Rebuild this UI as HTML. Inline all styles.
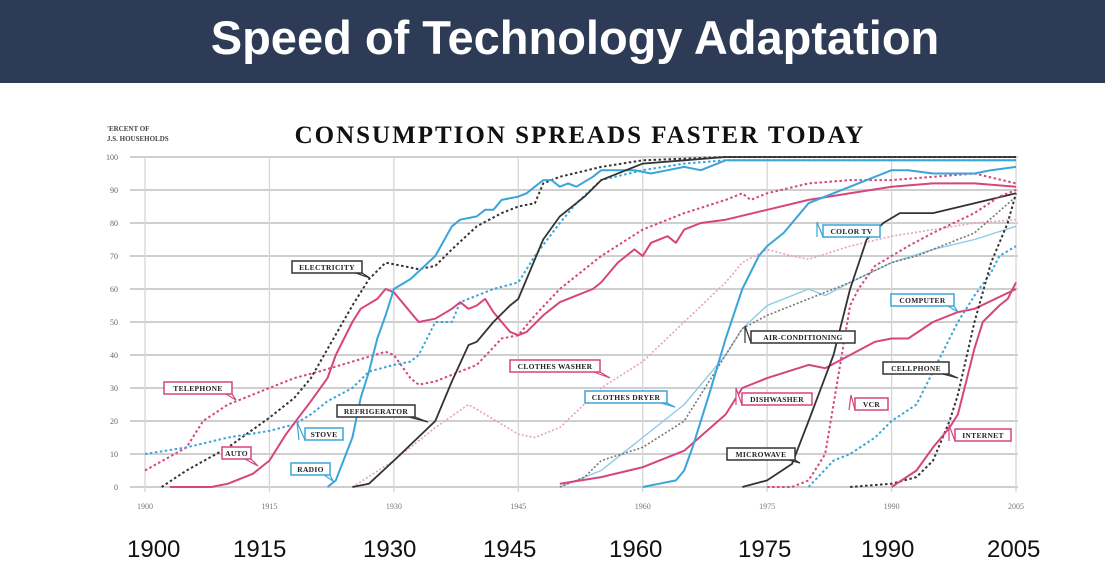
<!DOCTYPE html>
<html><head><meta charset="utf-8">
<style>
html,body{margin:0;padding:0;background:#fff;width:1105px;height:570px;overflow:hidden;font-family:"Liberation Sans",sans-serif}
#hdr{position:absolute;left:0;top:0;width:1105px;height:83px;background:#2e3b57}
#ttl{position:absolute;left:0;top:10px;width:1150px;text-align:center;color:#fff;font-weight:bold;font-size:47px}
svg{position:absolute;left:0;top:0}
.bl{position:absolute;top:536px;font-size:24px;color:#111}
</style></head>
<body>
<div id="hdr"><div id="ttl">Speed of Technology Adaptation</div></div>
<svg id="chart" width="1105" height="570"></svg>
<div class="bl" style="left:127px">1900</div>
<div class="bl" style="left:233px">1915</div>
<div class="bl" style="left:363px">1930</div>
<div class="bl" style="left:483px">1945</div>
<div class="bl" style="left:609px">1960</div>
<div class="bl" style="left:738px">1975</div>
<div class="bl" style="left:861px">1990</div>
<div class="bl" style="left:987px">2005</div>
<script>
const xTicks=[1900,1915,1930,1945,1960,1975,1990,2005];
const yTicks=[0,10,20,30,40,50,60,70,80,90,100];
const telephone=[[1900,5],[1905,12],[1907,20],[1910,25],[1915,30],[1918,33],[1921,35],[1925,38],[1929,41],[1930,40],[1932,33],[1933,31],[1935,32],[1940,37],[1943,45],[1945,46],[1947,52],[1950,60],[1955,70],[1960,78],[1965,83],[1970,87],[1972,89],[1973,87],[1975,89],[1980,92],[1985,93],[1990,93],[1995,94],[2000,95],[2005,92]];
const electricity=[[1902,0],[1905,5],[1910,12],[1915,21],[1918,27],[1920,33],[1925,55],[1927,63],[1929,68],[1931,67],[1933,66],[1935,67],[1937,72],[1940,79],[1943,83],[1945,85],[1947,86],[1948,92],[1950,94],[1955,97],[1960,99],[1965,99.5],[1970,100],[2005,100]];
const auto=[[1903,0],[1908,0],[1910,1],[1913,4],[1915,8],[1917,16],[1920,26],[1922,33],[1923,40],[1925,50],[1926,54],[1928,57],[1929,60],[1930,59],[1932,53],[1933,50],[1935,51],[1937,54],[1938,56],[1939,54],[1940,55],[1941,57],[1942,53],[1944,47],[1945,46],[1946,47],[1948,52],[1950,56],[1952,58],[1954,60],[1955,62],[1957,68],[1958,70],[1959,72],[1960,70],[1961,74],[1963,76],[1964,74],[1965,78],[1967,80],[1970,81],[1975,84],[1980,87],[1985,89],[1990,91],[1995,92],[2000,92],[2005,91]];
const stove=[[1900,10],[1905,12],[1910,15],[1915,17],[1918,19],[1920,22],[1922,26],[1925,30],[1927,35],[1930,37],[1932,38],[1933,40],[1935,50],[1937,50],[1938,56],[1940,58],[1942,60],[1945,62],[1947,70],[1950,80],[1952,86],[1955,93],[1960,96],[1965,98],[1970,99],[2005,99]];
const radio=[[1922,0],[1923,2],[1925,15],[1926,27],[1927,35],[1928,45],[1929,52],[1930,60],[1932,63],[1935,70],[1937,79],[1938,81],[1940,82],[1941,84],[1942,84],[1943,87],[1945,88],[1946,89],[1947,91],[1948,93],[1949,93],[1950,91],[1951,92],[1952,91],[1954,94],[1955,96],[1957,96],[1959,96],[1961,95],[1963,96],[1965,97],[1967,96],[1970,99],[2005,99]];
const refrigerator=[[1925,0],[1927,1],[1930,8],[1935,20],[1937,32],[1939,43],[1940,44],[1942,50],[1944,55],[1945,57],[1948,75],[1950,82],[1953,88],[1955,93],[1958,96],[1960,98],[1965,99],[1970,100],[2005,100]];
const washer=[[1925,0],[1930,8],[1935,18],[1939,25],[1941,22],[1945,16],[1947,15],[1950,18],[1955,30],[1960,38],[1965,50],[1970,62],[1972,68],[1975,72],[1978,70],[1980,69],[1985,73],[1990,76],[1995,78],[2000,80],[2005,81]];
const dryer=[[1950,0],[1955,5],[1960,15],[1965,25],[1970,40],[1972,48],[1975,55],[1978,58],[1980,60],[1982,58],[1985,62],[1990,68],[1995,72],[2000,75],[2005,79]];
const aircon=[[1950,0],[1953,3],[1955,8],[1960,12],[1965,20],[1970,40],[1972,48],[1975,52],[1980,57],[1985,62],[1990,68],[1993,70],[1995,72],[2000,77],[2005,88]];
const dishwasher=[[1950,1],[1955,3],[1960,6],[1965,11],[1970,22],[1972,30],[1975,33],[1980,37],[1982,36],[1985,40],[1988,44],[1990,45],[1992,45],[1995,50],[1998,53],[2000,54],[2005,60]];
const colortv=[[1960,0],[1962,1],[1964,2],[1965,5],[1966,12],[1968,28],[1970,45],[1972,60],[1974,70],[1975,73],[1977,77],[1978,80],[1980,86],[1982,88],[1985,91],[1987,93],[1990,96],[1992,96],[1995,95],[2000,95],[2002,96],[2005,97]];
const microwave=[[1972,0],[1975,2],[1978,7],[1980,20],[1983,40],[1985,60],[1987,75],[1989,80],[1991,83],[1995,83],[2000,86],[2005,89]];
const vcr=[[1975,0],[1978,0],[1980,2],[1982,10],[1983,25],[1984,40],[1985,55],[1986,60],[1988,67],[1990,70],[1992,73],[1995,77],[2000,83],[2003,88],[2005,90]];
const computer=[[1980,0],[1983,8],[1985,10],[1988,15],[1990,20],[1993,25],[1995,35],[1997,45],[1998,50],[2000,58],[2002,65],[2003,70],[2005,73]];
const cellphone=[[1985,0],[1990,1],[1993,3],[1995,8],[1997,20],[1998,28],[2000,50],[2002,68],[2004,80],[2005,89]];
const internet=[[1990,0],[1993,5],[1995,12],[1997,18],[1998,22],[2000,42],[2001,50],[2003,55],[2004,57],[2005,62]];

const X=y=>145+(y-1900)*(1016-145)/105;
const Y=v=>487-v*3.3;
const NS='http://www.w3.org/2000/svg';
const svg=document.getElementById('chart');
function mk(t,a){const e=document.createElementNS(NS,t);for(const k in a)e.setAttribute(k,a[k]);svg.appendChild(e);return e;}
yTicks.forEach(v=>{
  const l=mk('line',{x1:130,x2:1018,y1:Y(v),y2:Y(v),stroke:'#cfcfcf','stroke-width':2});
  
  
  const t=mk('text',{x:118,y:Y(v)+3,'font-size':8,'text-anchor':'end',fill:'#666','font-family':'Liberation Serif, serif'});
  t.textContent=v;
  
  
});
xTicks.forEach(yr=>{
  const l=mk('line',{x1:X(yr),x2:X(yr),y1:Y(100),y2:Y(0)+5,stroke:'#d6d6d6','stroke-width':1.3});
  
  
  const t=mk('text',{x:X(yr),y:509,'font-size':8,'text-anchor':'middle',fill:'#777','font-family':'Liberation Serif, serif'});
  t.textContent=yr;
  
  
});
let t=mk('text',{x:580,y:143,'font-size':25,'text-anchor':'middle',fill:'#111','font-family':'Liberation Serif, serif','font-weight':'bold','letter-spacing':2});
t.textContent='CONSUMPTION SPREADS FASTER TODAY';


t=mk('text',{x:107,y:131,'font-size':7,fill:'#444','font-family':'Liberation Serif, serif','font-weight':'bold'});
t.textContent="'ERCENT OF";


t=mk('text',{x:107,y:141,'font-size':7,fill:'#444','font-family':'Liberation Serif, serif','font-weight':'bold'});
t.textContent='J.S. HOUSEHOLDS';



const PINK='#d6457e',LPINK='#e8a0bd',BLUE='#3aa5d8',LBLUE='#8ccbe8',BLK='#333',GRAY='#777';
function series(data,color,dash,w,name){
  const p=mk('path',{d:data.map((d,i)=>(i?'L':'M')+X(d[0]).toFixed(1)+' '+Y(d[1]).toFixed(1)).join(''),fill:'none',stroke:color,'stroke-width':w,'stroke-dasharray':dash||'none','stroke-linejoin':'round'});
  
  
}
series(washer,LPINK,'2 2',1.6,'line-clothes-washer');
series(dryer,LBLUE,'',1.4,'line-clothes-dryer');
series(aircon,GRAY,'2 2',1.6,'line-air-conditioning');
series(telephone,PINK,'2.5 2.5',2,'line-telephone');
series(electricity,BLK,'2.5 2.5',2,'line-electricity');
series(stove,BLUE,'2.5 2.5',2,'line-stove');
series(auto,PINK,'',2,'line-auto');
series(radio,BLUE,'',2,'line-radio');
series(refrigerator,BLK,'',1.8,'line-refrigerator');
series(dishwasher,PINK,'',2,'line-dishwasher');
series(colortv,BLUE,'',2,'line-color-tv');
series(microwave,BLK,'',1.8,'line-microwave');
series(vcr,PINK,'2.5 2.5',2,'line-vcr');
series(computer,BLUE,'2.5 2.5',2,'line-computer');
series(cellphone,BLK,'2.5 2.5',2,'line-cellphone');
series(internet,PINK,'',2,'line-internet');

function label(txt,x,y,w,color,px,py,name){
  const tx=px>x+w/2?x+w:x;
  const tail=mk('polyline',{points:`${tx-6},${y+12} ${px},${py} ${tx},${y+12}`,fill:'#fff',stroke:color,'stroke-width':1.2});
  
  
  const r=mk('rect',{x:x,y:y,width:w,height:12,fill:'#fff',stroke:color,'stroke-width':1.5});
  
  
  const tt=mk('text',{x:x+w/2,y:y+9,'font-size':7.5,'text-anchor':'middle',fill:'#222','font-family':'Liberation Serif, serif','font-weight':'bold','letter-spacing':0.3});
  tt.textContent=txt;
  
  
}
label('TELEPHONE',164,382,68,PINK,236,400,'label-telephone');
label('ELECTRICITY',292,261,70,BLK,370,278,'label-electricity');
label('AUTO',222,447,29,PINK,258,466,'label-auto');
label('STOVE',305,428,38,BLUE,297,422,'label-stove');
label('RADIO',291,463,39,BLUE,333,481,'label-radio');
label('REFRIGERATOR',337,405,78,BLK,428,422,'label-refrigerator');
label('CLOTHES WASHER',510,360,90,PINK,610,378,'label-clothes-washer');
label('CLOTHES DRYER',585,391,82,BLUE,675,407,'label-clothes-dryer');
label('DISHWASHER',742,393,70,PINK,736,388,'label-dishwasher');
label('AIR-CONDITIONING',751,331,104,BLK,745,326,'label-air-conditioning');
label('COLOR TV',823,225,57,BLUE,817,222,'label-color-tv');
label('COMPUTER',891,294,63,BLUE,958,312,'label-computer');
label('CELLPHONE',883,362,66,BLK,958,378,'label-cellphone');
label('VCR',855,398,33,PINK,851,395,'label-vcr');
label('INTERNET',955,429,56,PINK,949,425,'label-internet');
label('MICROWAVE',727,448,68,BLK,800,463,'label-microwave');
</script>
</body></html>
